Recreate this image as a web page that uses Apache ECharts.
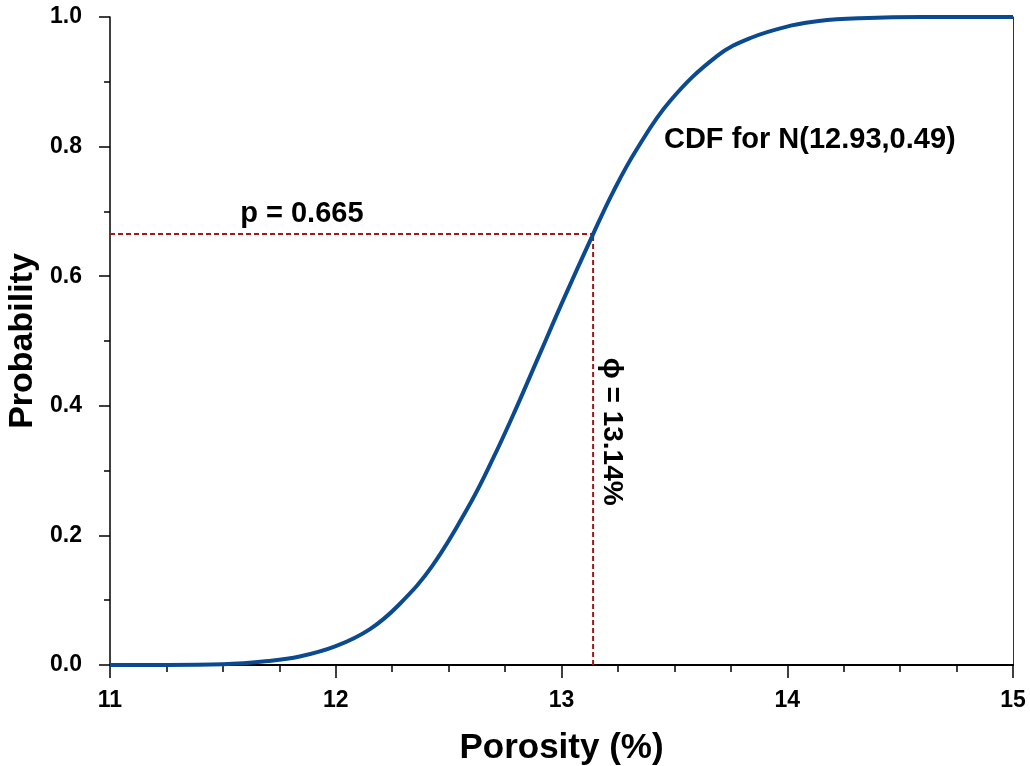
<!DOCTYPE html>
<html>
<head>
<meta charset="utf-8">
<script src="https://cdn.jsdelivr.net/npm/echarts@6/dist/echarts.min.js"></script>
<style>
html,body{margin:0;padding:0;background:#fff;}
#chart{width:1030px;height:766px;}
</style>
</head>
<body>
<div id="chart"></div>
<script>
// Cumulative probability of porosity, N(12.93, 0.49)
const porosity = [11.0, 11.25, 11.5, 11.7, 11.84, 12.0, 12.15, 12.28, 12.43, 12.6, 12.7, 12.79, 12.9, 13.01, 13.14, 13.23, 13.33, 13.48, 13.69, 13.84, 14.02, 14.14, 14.32, 14.6, 15.0];
const probability = [0, 0, 0.001, 0.006, 0.013, 0.029, 0.055, 0.093, 0.154, 0.252, 0.321, 0.389, 0.477, 0.565, 0.665, 0.731, 0.794, 0.870, 0.940, 0.968, 0.987, 0.994, 0.998, 1.0, 1.0];

// Read-off point
const pRead = 0.665;
const phiRead = 13.14;

const xTicks = [11, 12, 13, 14, 15];
const yTicks = [0.0, 0.2, 0.4, 0.6, 0.8, 1.0];

const curveTitle = 'CDF for N(12.93,0.49)';
const pLabel = 'p = ' + pRead.toFixed(3);
const phiLabel = '\u03d5 = ' + phiRead.toFixed(2) + '%';

const FONT = '"Liberation Sans", Arial, sans-serif';
const chart = echarts.init(document.getElementById('chart'));

const curve = porosity.map((x, i) => [x, probability[i]]);
const hLine = [[11, pRead], [phiRead, pRead]];
const vLine = [[phiRead, 0], [phiRead, pRead]];

const option = {
  animation: false,
  backgroundColor: '#fff',
  grid: {left: 110, right: 17, top: 17, bottom: 101, containLabel: false, outerBoundsMode: 'none'},
  xAxis: [{
    type: 'value', min: 11, max: 15, interval: 1,
    name: 'Porosity (%)', nameLocation: 'middle', nameGap: 66,
    nameTextStyle: {fontFamily: FONT, fontSize: 35, color: '#000', fontWeight: 'bold'},
    axisLine: {onZero: false, lineStyle: {color: '#000', width: 2}},
    axisTick: {show: true, inside: false, length: 13, lineStyle: {color: '#000', width: 1.5}},
    minorTick: {show: true, splitNumber: 4, length: 7, lineStyle: {color: '#000', width: 1.5}},
    axisLabel: {fontFamily: FONT, fontSize: 23, fontWeight: 'bold', color: '#000', margin: 24,
      formatter: v => xTicks.includes(v) ? String(v) : ''},
    splitLine: {show: false}
  }, {
    type: 'value', min: 11, max: 15, position: 'top',
    axisLine: {show: true, lineStyle: {color: '#000', width: 2}},
    axisTick: {show: false}, axisLabel: {show: false}, splitLine: {show: false}
  }],
  yAxis: [{
    type: 'value', min: 0, max: 1, interval: 0.2,
    name: 'Probability', nameLocation: 'middle', nameGap: 66, nameRotate: 90,
    nameTextStyle: {fontFamily: FONT, fontSize: 34, color: '#000', fontWeight: 'bold'},
    axisLine: {show: true, onZero: false, lineStyle: {color: '#000', width: 1.5}},
    axisTick: {show: true, inside: false, length: 11, lineStyle: {color: '#000', width: 1.5}},
    minorTick: {show: true, splitNumber: 2, length: 6, lineStyle: {color: '#000', width: 1.5}},
    axisLabel: {fontFamily: FONT, fontSize: 23, fontWeight: 'bold', color: '#000', margin: 28,
      formatter: v => v.toFixed(1)},
    splitLine: {show: false}
  }, {
    type: 'value', min: 0, max: 1, position: 'right',
    axisLine: {show: true, lineStyle: {color: '#333', width: 1}},
    axisTick: {show: false}, axisLabel: {show: false}, splitLine: {show: false}
  }],
  series: [{
    type: 'line', data: hLine, symbol: 'none', z: 2,
    lineStyle: {color: '#9b1b1b', width: 2, type: [5, 3]}
  }, {
    type: 'line', data: vLine, symbol: 'none', z: 2,
    lineStyle: {color: '#9b1b1b', width: 2, type: [5, 3]}
  }, {
    type: 'line', data: curve, symbol: 'none', smooth: 0.4, z: 3,
    lineStyle: {color: '#0b4a8e', width: 4}
  }]
};
chart.setOption(option);

// Annotation text placed in data coordinates
const at = (x, y) => chart.convertToPixel({xAxisIndex: 0, yAxisIndex: 0}, [x, y]);
const pPos = at(11.85, pRead);
const tPos = at(14.1, 0.81);
const phiPos = at(phiRead, 0.36);
chart.setOption({
  graphic: [{
    type: 'text', x: pPos[0], y: pPos[1] - 6,
    style: {text: pLabel, font: 'bold 29px ' + FONT, fill: '#000', textAlign: 'center', textVerticalAlign: 'bottom'}
  }, {
    type: 'text', x: tPos[0], y: tPos[1],
    style: {text: curveTitle, font: 'bold 29px ' + FONT, fill: '#000', textAlign: 'center', textVerticalAlign: 'middle'}
  }, {
    type: 'text', x: phiPos[0] + 19, y: phiPos[1], rotation: -Math.PI / 2,
    style: {text: phiLabel, font: 'bold 28px ' + FONT, fill: '#000', textAlign: 'center', textVerticalAlign: 'middle'}
  }]
});
</script>
</body>
</html>
